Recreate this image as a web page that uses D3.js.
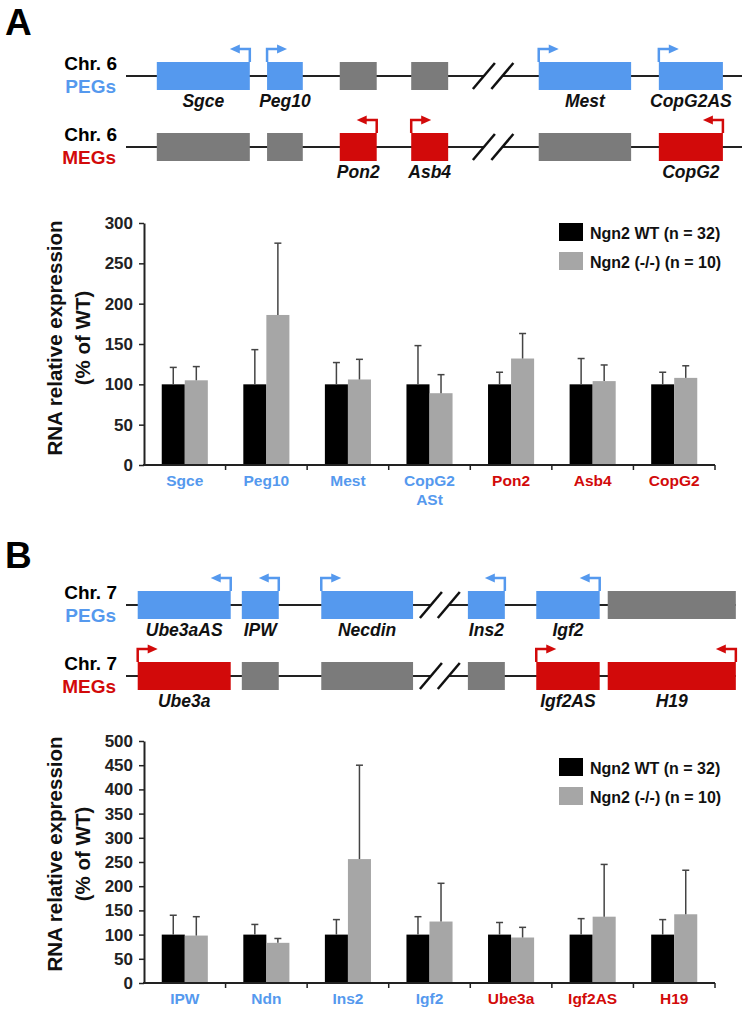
<!DOCTYPE html>
<html>
<head>
<meta charset="utf-8">
<script src="https://cdn.jsdelivr.net/npm/d3@7"></script>
<style>
  body { margin: 0; background: #fff; }
  text { font-family: "Liberation Sans", Arial, sans-serif; font-weight: bold; }
</style>
</head>
<body>
<div id="chart"></div>
<script>
// ---- colours
var BLUE = "#5599ee", RED = "#d20a0a", GREY = "#7b7b7b";

// ---- panel A locus (schematic positions, 0-100)
var lociA = [[5.0, 20.1], [22.9, 28.7], [34.7, 40.7], [46.3, 52.3], [67.0, 82.0], [86.5, 96.9]];
var pegNamesA = ["Sgce", "Peg10", null, null, "Mest", "CopG2AS"];
var pegDirsA = ["L", "R", null, null, "R", "R"];
var megNamesA = [null, null, "Pon2", "Asb4", null, "CopG2"];
var megDirsA = [null, null, "L", "R", null, "L"];
var breakA = [58.1, 61.1];

// ---- panel B locus
var lociB = [[1.9, 17.0], [18.8, 24.8], [31.7, 46.6], [55.5, 61.5], [66.6, 76.9], [78.2, 99.0]];
var pegNamesB = ["Ube3aAS", "IPW", "Necdin", "Ins2", "Igf2", null];
var pegDirsB = ["L", "L", "R", "L", "L", null];
var megNamesB = ["Ube3a", null, null, null, "Igf2AS", "H19"];
var megDirsB = ["R", null, null, null, "R", "L"];
var breakB = [49.5, 52.4];

// ---- panel A bars
var catsA = ["Sgce", "Peg10", "Mest", "CopG2\nASt", "Pon2", "Asb4", "CopG2"];
var catColorsA = [BLUE, BLUE, BLUE, BLUE, RED, RED, RED];
var wtA = [100, 100, 100, 100, 100, 100, 100];
var wtErrA = [21, 43, 27, 48, 15, 32, 15];
var koA = [105, 186, 106, 89, 132, 104, 108];
var koErrA = [17, 89, 25, 23, 31, 20, 15];

// ---- panel B bars
var catsB = ["IPW", "Ndn", "Ins2", "Igf2", "Ube3a", "Igf2AS", "H19"];
var catColorsB = [BLUE, BLUE, BLUE, BLUE, RED, RED, RED];
var wtB = [100, 100, 100, 100, 100, 100, 100];
var wtErrB = [40, 21, 31, 37, 25, 33, 31];
var koB = [98, 83, 256, 127, 94, 137, 142];
var koErrB = [39, 9, 194, 79, 21, 108, 91];

var legendLabels = ["Ngn2 WT (n = 32)", "Ngn2 (-/-) (n = 10)"];
var barColors = ["#000000", "#a6a6a6"];

var svg = d3.select("#chart").append("svg")
    .attr("width", 747)
    .attr("height", 1013)
    .style("background", "white");

function drawLocus(cfg) {
    var x = d3.scaleLinear().domain([0, 100]).range([126, 742]);
    var g = svg.append("g");

    cfg.rows.forEach(function(row) {
        var y = row.y;
        // backbone with break
        g.append("line").attr("x1", x(0)).attr("x2", x(cfg.brk[0]))
            .attr("y1", y).attr("y2", y).attr("stroke", "#222").attr("stroke-width", 2);
        g.append("line").attr("x1", x(cfg.brk[1])).attr("x2", x(cfg.end))
            .attr("y1", y).attr("y2", y).attr("stroke", "#222").attr("stroke-width", 2);
        cfg.brk.forEach(function(b) {
            g.append("line")
                .attr("x1", x(b) - 11).attr("y1", y + 13)
                .attr("x2", x(b) + 11).attr("y2", y - 13)
                .attr("stroke", "#111").attr("stroke-width", 2.5);
        });

        g.append("text").attr("x", 117).attr("y", y - 6)
            .attr("text-anchor", "end").attr("font-size", 19).attr("fill", "#000")
            .text(cfg.chr);
        g.append("text").attr("x", 116).attr("y", y + 17)
            .attr("text-anchor", "end").attr("font-size", 19).attr("fill", row.color)
            .text(row.label);

        var genes = cfg.loci.map(function(l, i) {
            return { s: l[0], e: l[1], name: row.names[i], dir: row.dirs[i] };
        });

        g.selectAll(null).data(genes).enter().append("rect")
            .attr("x", function(d) { return x(d.s); })
            .attr("y", y - 14)
            .attr("width", function(d) { return x(d.e) - x(d.s); })
            .attr("height", 28)
            .attr("fill", function(d) { return d.name ? row.color : GREY; });

        g.selectAll(null).data(genes.filter(function(d) { return d.name; })).enter().append("text")
            .attr("x", function(d) { return (x(d.s) + x(d.e)) / 2; })
            .attr("y", y + 31)
            .attr("text-anchor", "middle")
            .attr("font-size", 17.5)
            .attr("font-style", "italic")
            .attr("fill", "#111")
            .text(function(d) { return d.name; });

        // transcription start arrows
        var arrows = genes.filter(function(d) { return d.dir; });
        arrows.forEach(function(d) {
            var top = y - 14, ay = top - 13;
            var x0 = d.dir == "R" ? x(d.s) : x(d.e);
            var sgn = d.dir == "R" ? 1 : -1;
            g.append("path")
                .attr("d", "M" + x0 + "," + top + "V" + ay + "H" + (x0 + sgn * 11))
                .attr("fill", "none").attr("stroke", row.color).attr("stroke-width", 2.5);
            g.append("path")
                .attr("d", "M" + (x0 + sgn * 10) + "," + (ay - 4.5) +
                    "L" + (x0 + sgn * 20) + "," + ay +
                    "L" + (x0 + sgn * 10) + "," + (ay + 4.5) + "Z")
                .attr("fill", row.color);
        });
    });
}

function drawBars(cfg) {
    var g = svg.append("g");
    var y = d3.scaleLinear().domain([0, cfg.yMax]).range([cfg.y0, cfg.yTop]);
    var x = d3.scaleBand().domain(cfg.cats).range([144, 715]);
    var sub = d3.scaleBand().domain(["wt", "ko"]).range([0, x.bandwidth()]).paddingOuter(0.77);

    var yAxis = g.append("g")
        .attr("transform", "translate(144,0)")
        .call(d3.axisLeft(y).tickValues(d3.range(0, cfg.yMax + 1, 50)).tickSize(5).tickSizeOuter(0).tickPadding(6));
    yAxis.select(".domain").attr("stroke", "#222").attr("stroke-width", 2);
    yAxis.selectAll(".tick line").attr("stroke", "#222").attr("stroke-width", 1.5);
    yAxis.selectAll(".tick text").attr("font-size", 17).attr("fill", "#222")
        .style("font-family", "'Liberation Sans', Arial, sans-serif").style("font-weight", "bold");

    var rows = cfg.cats.map(function(c, i) {
        return [
            { cat: c, key: "wt", v: cfg.wt[i], err: cfg.wtErr[i], fill: barColors[0] },
            { cat: c, key: "ko", v: cfg.ko[i], err: cfg.koErr[i], fill: barColors[1] }
        ];
    });
    var bars = [].concat.apply([], rows);

    g.selectAll(null).data(bars).enter().append("rect")
        .attr("x", function(d) { return x(d.cat) + sub(d.key); })
        .attr("y", function(d) { return y(d.v); })
        .attr("width", sub.bandwidth())
        .attr("height", function(d) { return y(0) - y(d.v); })
        .attr("fill", function(d) { return d.fill; });

    // upper error bars
    var eb = g.selectAll(null).data(bars).enter().append("g")
        .attr("transform", function(d) { return "translate(" + (x(d.cat) + sub(d.key) + sub.bandwidth() / 2) + ",0)"; });
    eb.append("line")
        .attr("y1", function(d) { return y(d.v); })
        .attr("y2", function(d) { return y(d.v + d.err); })
        .attr("stroke", "#444").attr("stroke-width", 1.5);
    eb.append("line")
        .attr("x1", -3.5).attr("x2", 3.5)
        .attr("y1", function(d) { return y(d.v + d.err); })
        .attr("y2", function(d) { return y(d.v + d.err); })
        .attr("stroke", "#444").attr("stroke-width", 1.5);

    // x axis with ticks between categories
    g.append("line").attr("x1", 143).attr("x2", 715).attr("y1", y(0)).attr("y2", y(0))
        .attr("stroke", "#222").attr("stroke-width", 2);
    var bounds = cfg.cats.map(function(c) { return x(c); }).concat([x.range()[1]]);
    g.selectAll(null).data(bounds.slice(1)).enter().append("line")
        .attr("x1", function(d) { return d; }).attr("x2", function(d) { return d; })
        .attr("y1", y(0)).attr("y2", y(0) + 5)
        .attr("stroke", "#222").attr("stroke-width", 1.5);

    var labs = g.selectAll(null).data(cfg.cats).enter().append("text")
        .attr("text-anchor", "middle")
        .attr("font-size", 15.5)
        .attr("fill", function(d, i) { return cfg.catColors[i]; });
    labs.each(function(d) {
        var t = d3.select(this);
        d.split("\n").forEach(function(part, k) {
            t.append("tspan")
                .attr("x", x(d) + x.bandwidth() / 2)
                .attr("y", y(0) + 21 + k * 19)
                .text(part);
        });
    });

    // y label
    var cy = (y(0) + y(cfg.yMax)) / 2 - cfg.labelShift;
    g.append("text").attr("transform", "translate(62," + cy + ") rotate(-90)")
        .attr("text-anchor", "middle").attr("font-size", 20.5).attr("fill", "#111")
        .text("RNA relative expression");
    g.append("text").attr("transform", "translate(90," + cy + ") rotate(-90)")
        .attr("text-anchor", "middle").attr("font-size", 20.5).attr("fill", "#111")
        .text("(% of WT)");

    // legend
    var lg = g.selectAll(null).data(legendLabels).enter().append("g")
        .attr("transform", function(d, i) { return "translate(559," + (cfg.legendY + i * 29) + ")"; });
    lg.append("rect").attr("width", 24).attr("height", 18)
        .attr("fill", function(d, i) { return barColors[i]; });
    lg.append("text").attr("x", 31).attr("y", 16).attr("font-size", 16).attr("fill", "#111")
        .text(function(d) { return d; });
}

// panel letters
svg.append("text").attr("x", 5).attr("y", 35).attr("font-size", 37).text("A");
svg.append("text").attr("x", 5).attr("y", 568).attr("font-size", 37).text("B");

drawLocus({
    chr: "Chr. 6", loci: lociA, brk: breakA, end: 100,
    rows: [
        { y: 76, label: "PEGs", color: BLUE, names: pegNamesA, dirs: pegDirsA },
        { y: 147, label: "MEGs", color: RED, names: megNamesA, dirs: megDirsA }
    ]
});

drawLocus({
    chr: "Chr. 7", loci: lociB, brk: breakB, end: 99.0,
    rows: [
        { y: 605, label: "PEGs", color: BLUE, names: pegNamesB, dirs: pegDirsB },
        { y: 676, label: "MEGs", color: RED, names: megNamesB, dirs: megDirsB }
    ]
});

drawBars({
    cats: catsA, catColors: catColorsA, wt: wtA, wtErr: wtErrA, ko: koA, koErr: koErrA,
    yMax: 300, y0: 465, yTop: 223, legendY: 223, labelShift: 6
});

drawBars({
    cats: catsB, catColors: catColorsB, wt: wtB, wtErr: wtErrB, ko: koB, koErr: koErrB,
    yMax: 500, y0: 983, yTop: 741, legendY: 758, labelShift: 8
});
</script>
</body>
</html>
